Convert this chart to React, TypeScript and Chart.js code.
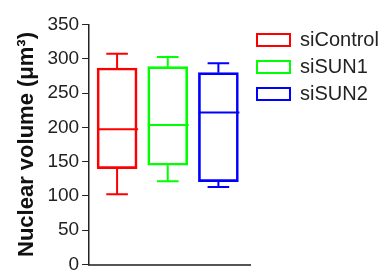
import React, { useEffect, useRef } from 'react';
import { Chart, registerables } from 'chart.js';

Chart.register(...registerables);

const categories = ['siControl', 'siSUN1', 'siSUN2'];
const positions = [1, 2, 3];
const whiskerLow = [102.6, 121.5, 113.2];
const quartile1 = [139.9, 144.8, 120.9];
const medians = [197.3, 203.6, 221.5];
const quartile3 = [286.6, 288.5, 279.8];
const whiskerHigh = [307.4, 302.6, 293.5];
const colors = ['#ff0000', '#00ff00', '#0000ff'];
const yMin = 0;
const yMax = 350;
const yStep = 50;
const yTitle = 'Nuclear volume (μm³)';

const FONT = "'Liberation Sans', Arial, Helvetica, sans-serif";

const boxWhiskerPlugin = {
  id: 'boxWhisker',
  afterDatasetsDraw(chart: any) {
    const ctx = chart.ctx;
    const y = chart.scales.y;
    chart.data.datasets.forEach((_ds: any, i: number) => {
      const meta = chart.getDatasetMeta(i);
      const bar = meta.data[0];
      if (!bar) return;
      const cx = bar.x;
      const w = bar.width;
      const cap = w * 0.54;
      const yMed = y.getPixelForValue(medians[i]);
      const yQ1 = y.getPixelForValue(quartile1[i]);
      const yQ3 = y.getPixelForValue(quartile3[i]);
      const yLo = y.getPixelForValue(whiskerLow[i]);
      const yHi = y.getPixelForValue(whiskerHigh[i]);
      ctx.save();
      ctx.strokeStyle = colors[i];
      ctx.lineWidth = 2;
      ctx.beginPath();
      ctx.moveTo(cx - w / 2, yMed);
      ctx.lineTo(cx + w / 2 + 1, yMed);
      ctx.moveTo(cx, yQ3);
      ctx.lineTo(cx, yHi);
      ctx.moveTo(cx - cap / 2, yHi);
      ctx.lineTo(cx + cap / 2, yHi);
      ctx.moveTo(cx, yQ1);
      ctx.lineTo(cx, yLo);
      ctx.moveTo(cx - cap / 2, yLo);
      ctx.lineTo(cx + cap / 2, yLo);
      ctx.stroke();
      ctx.restore();
    });
  },
};

export default function App() {
  const ref = useRef<HTMLCanvasElement | null>(null);

  useEffect(() => {
    if (!ref.current) return;
    const chart = new Chart(ref.current, {
      type: 'bar',
      data: {
        datasets: categories.map((name, i) => ({
          label: name,
          data: [{ x: positions[i], y: [quartile1[i], quartile3[i]] }],
          backgroundColor: 'rgba(0,0,0,0)',
          borderColor: colors[i],
          borderWidth: 2,
          borderSkipped: false,
          barThickness: 40,
          grouped: false,
        })) as any,
      },
      options: {
        responsive: false,
        animation: false,
        events: [],
        layout: { padding: { top: 23, bottom: 15.5, left: 8, right: 0 } },
        plugins: {
          legend: {
            display: true,
            position: 'right',
            align: 'start',
            maxWidth: 132,
            labels: {
              boxWidth: 33,
              boxHeight: 12,
              padding: 7,
              color: '#222',
              font: { family: FONT, size: 20 },
            },
          },
          tooltip: { enabled: false },
        },
        scales: {
          x: {
            type: 'linear',
            offset: false,
            min: 0.4475,
            max: 3.624,
            grid: { display: false, drawTicks: false, offset: false },
            ticks: { display: false },
            border: { display: true, color: '#555', width: 2 },
          },
          y: {
            min: yMin,
            max: yMax,
            afterFit: (scale: any) => {
              scale.paddingTop = 24.5;
            },
            ticks: {
              stepSize: yStep,
              autoSkip: false,
              padding: 3,
              color: '#222',
              font: { family: FONT, size: 19 },
            },
            grid: {
              display: true,
              drawOnChartArea: false,
              drawTicks: true,
              tickLength: 7,
              color: '#222',
              lineWidth: 1,
            },
            border: { display: true, color: '#222', width: 1.5 },
            title: {
              display: true,
              text: yTitle,
              color: '#111',
              font: { family: FONT, size: 22, weight: 'bold' },
              padding: { top: 6, bottom: 4 },
            },
          },
        },
      },
      plugins: [boxWhiskerPlugin],
    } as any);
    return () => chart.destroy();
  }, []);

  return (
    <canvas
      ref={ref}
      width={382}
      height={280}
      style={{ position: 'absolute', left: 0, top: 0, width: 382, height: 280, display: 'block' }}
    />
  );
}
